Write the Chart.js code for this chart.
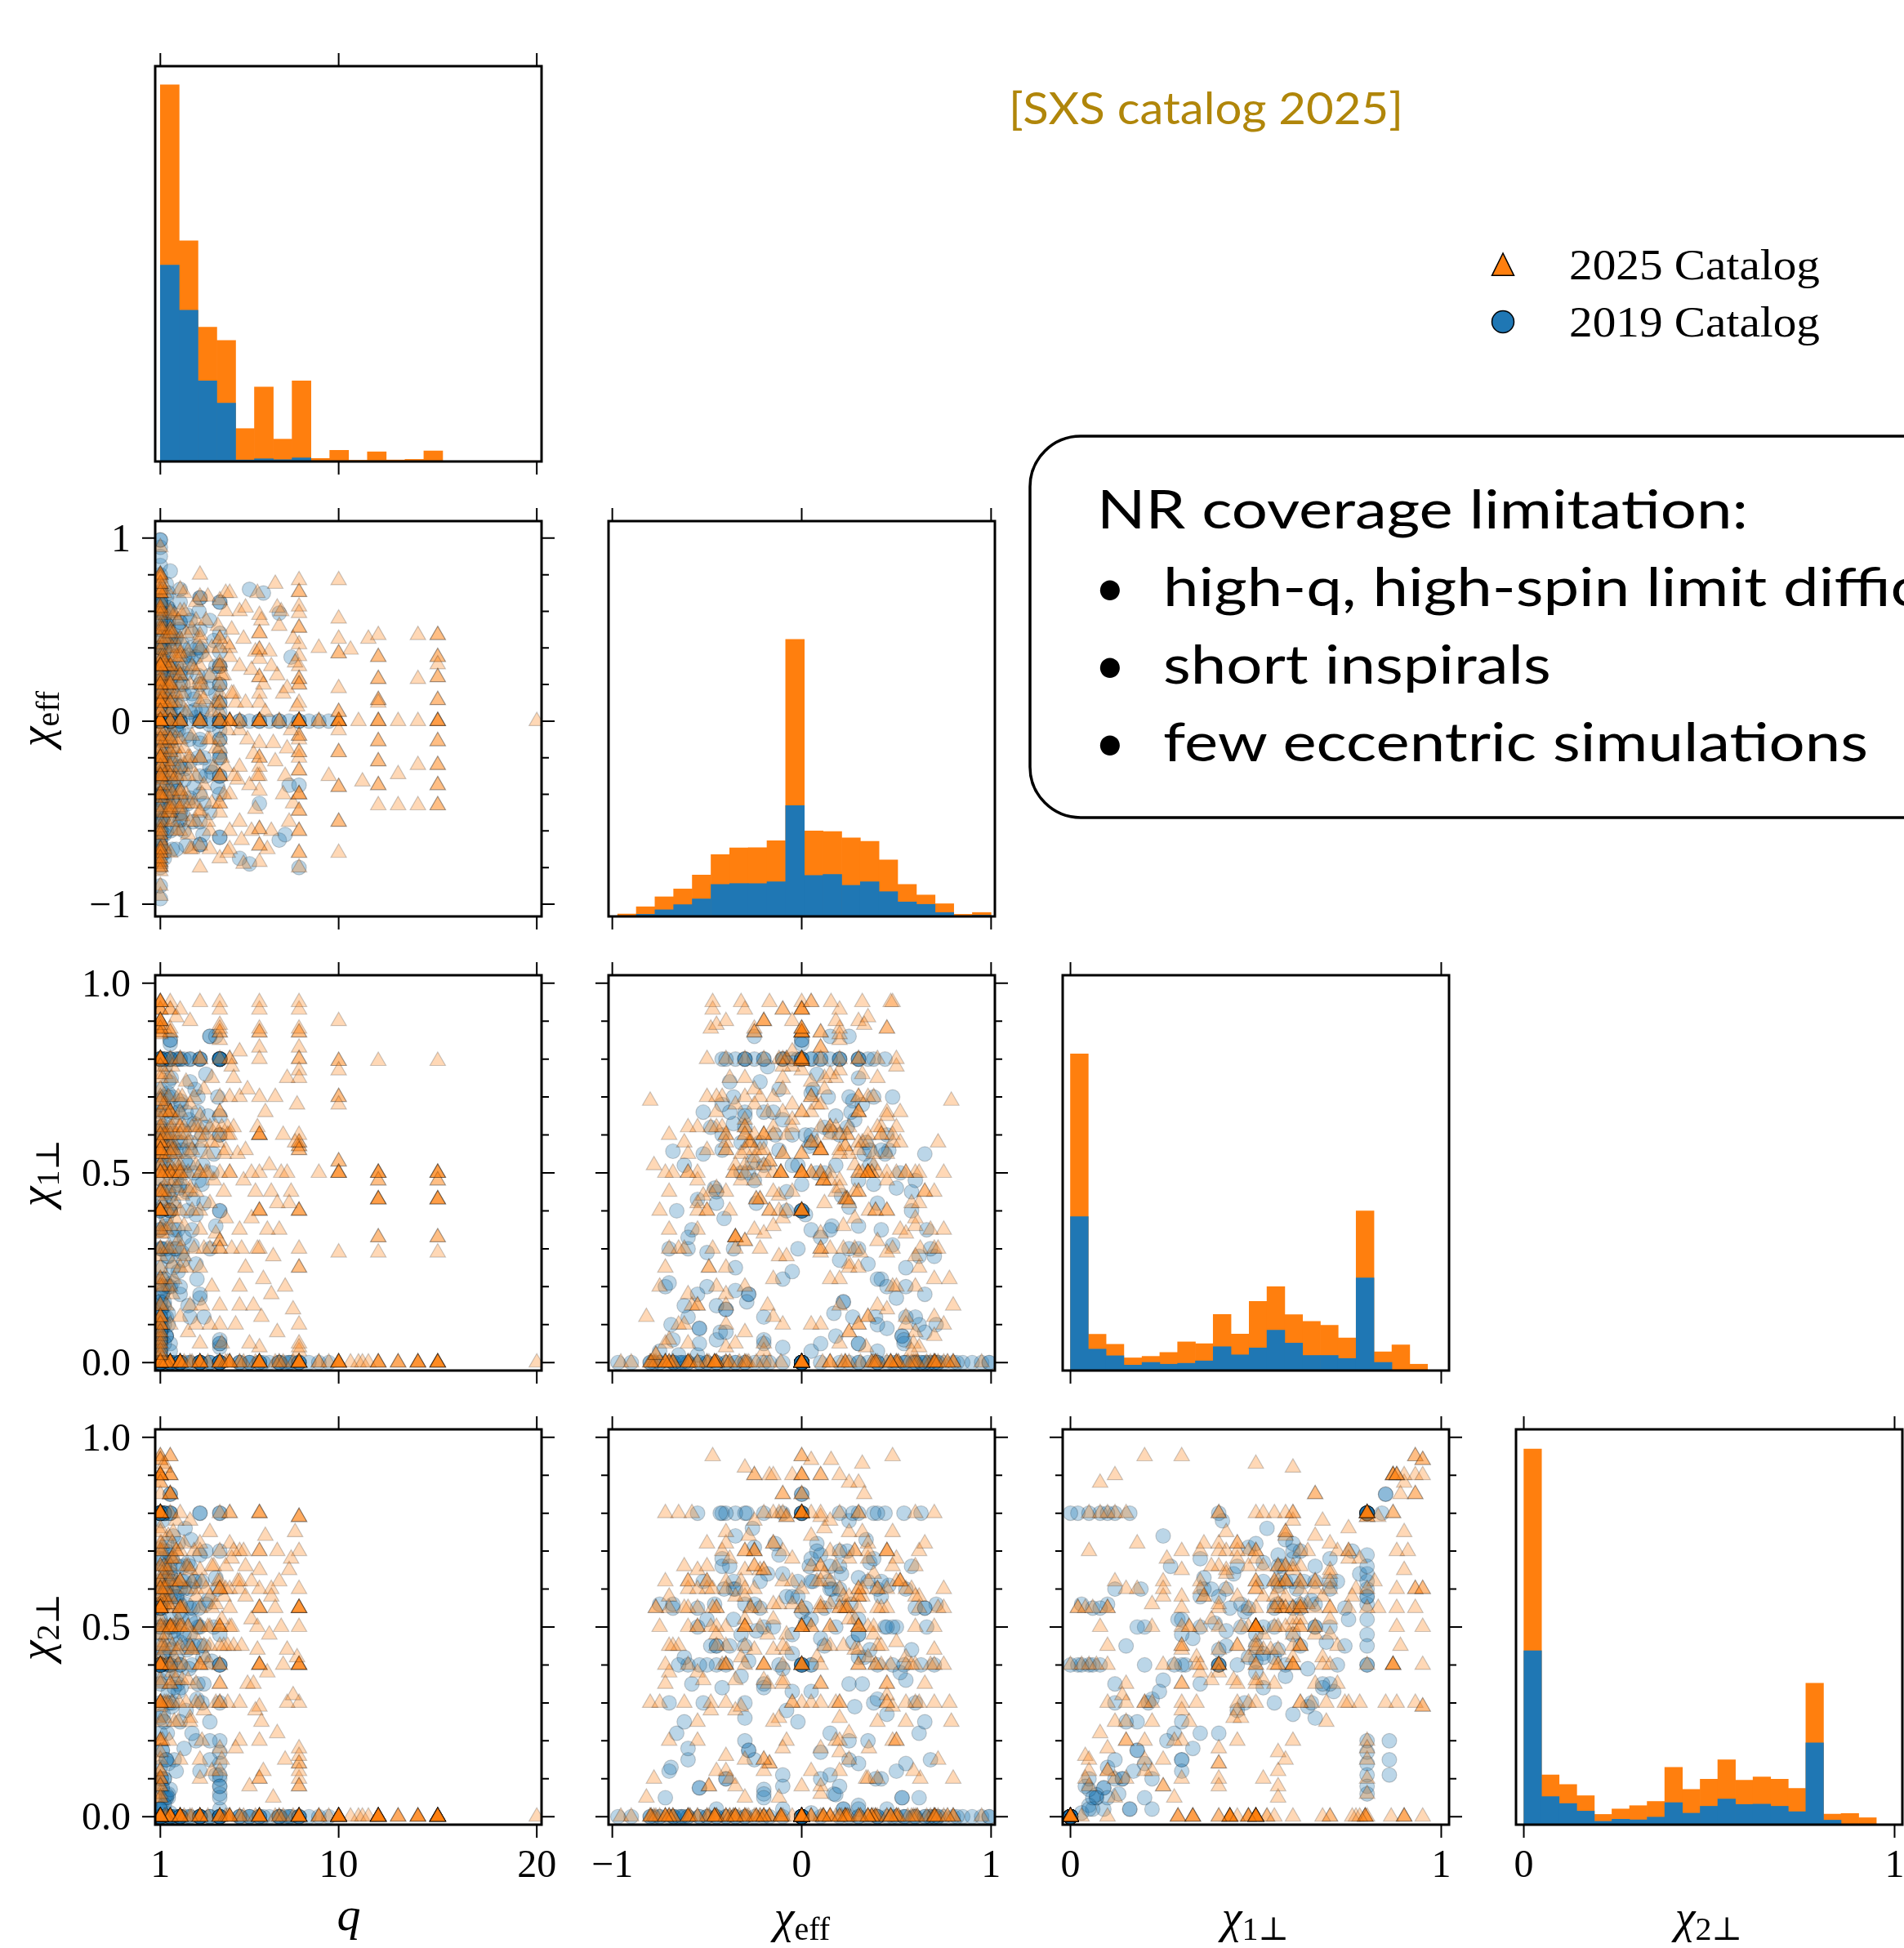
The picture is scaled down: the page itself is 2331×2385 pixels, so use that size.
<!DOCTYPE html>
<html lang="en">
<head>
<meta charset="utf-8">
<title>SXS catalog coverage</title>
<script src="https://cdn.jsdelivr.net/npm/chart.js@4.4.1/dist/chart.umd.min.js"></script>
<style>
  html, body { margin: 0; padding: 0; background: #fff; }
  body { position: relative; width: 2331px; height: 2385px; overflow: hidden; }
  canvas { position: absolute; }
  #overlay { position: absolute; left: 0; top: 0; z-index: 5; }
</style>
</head>
<body>
<svg id="overlay" width="2331" height="2385" xmlns="http://www.w3.org/2000/svg">
  <text x="1235" y="152" font-family="Lato" font-size="54" fill="#b0860a" textLength="483" lengthAdjust="spacingAndGlyphs">[SXS catalog 2025]</text>

  <!-- legend -->
  <path d="M1840 310 L1826.5 337.3 L1853.5 337.3 Z" fill="#ff7f0e" stroke="#000" stroke-width="1.5"/>
  <circle cx="1840" cy="394" r="13.5" fill="#1f77b4" stroke="#000" stroke-width="1.5"/>
  <g font-family="'Liberation Serif', serif" font-size="53">
    <text x="1921" y="342" textLength="307" lengthAdjust="spacingAndGlyphs">2025 Catalog</text>
    <text x="1921" y="412" textLength="307" lengthAdjust="spacingAndGlyphs">2019 Catalog</text>
  </g>

  <!-- note box -->
  <g id="note" font-family="Lato" font-size="65" fill="#000">
    <rect x="1261" y="534" width="1250" height="467" rx="62" ry="62" fill="#fff" stroke="#000" stroke-width="3.5"/>
    <text class="line" x="1343" y="647">NR coverage limitation:</text>
    <text x="1340" y="742">•</text>
    <text class="line" x="1424" y="742">high-q, high-spin limit difficult</text>
    <text x="1340" y="837">•</text>
    <text class="line" x="1424" y="837">short inspirals</text>
    <text x="1340" y="932">•</text>
    <text class="line" id="noteLast" x="1424" y="932">few eccentric simulations</text>
  </g>

  <!-- axis titles -->
  <g font-family="'Liberation Serif', 'DejaVu Serif', serif" fill="#000">
    <text x="427" y="2363" text-anchor="middle" font-style="italic" font-size="58">q</text>
    <text x="982" y="2366" text-anchor="middle"><tspan font-style="italic" font-size="56">χ</tspan><tspan font-size="40" dy="9">eff</tspan></text>
    <text x="1537" y="2366" text-anchor="middle"><tspan font-style="italic" font-size="56">χ</tspan><tspan font-size="40" dy="9">1⊥</tspan></text>
    <text x="2092" y="2366" text-anchor="middle"><tspan font-style="italic" font-size="56">χ</tspan><tspan font-size="40" dy="9">2⊥</tspan></text>
    <text transform="translate(63 880) rotate(-90)" text-anchor="middle"><tspan font-style="italic" font-size="56">χ</tspan><tspan font-size="40" dy="9">eff</tspan></text>
    <text transform="translate(63 1436) rotate(-90)" text-anchor="middle"><tspan font-style="italic" font-size="56">χ</tspan><tspan font-size="40" dy="9">1⊥</tspan></text>
    <text transform="translate(63 1992) rotate(-90)" text-anchor="middle"><tspan font-style="italic" font-size="56">χ</tspan><tspan font-size="40" dy="9">2⊥</tspan></text>
  </g>
</svg>

<script>
"use strict";
//------------------------------ histogram data ------------------------------
const qBinEdges = [1, 1.95, 2.9, 3.85, 4.8, 5.75, 6.7, 7.65, 8.6, 9.55, 10.5, 11.45, 12.4, 13.35, 14.3, 15.25, 16.2, 17.15, 18.1, 19.05, 20];
const qCounts2025 = [1248, 731, 445, 401, 109, 247, 74, 267, 10, 37, 4, 32, 5, 7, 35, 0, 0, 0, 0, 2];
const qCounts2019 = [651, 501, 267, 193, 5, 9, 6, 12, 2, 1, 0, 0, 0, 0, 0, 0, 0, 0, 0, 0];

const chiEffBinEdges = [-0.972, -0.873, -0.775, -0.676, -0.578, -0.479, -0.380, -0.282, -0.183, -0.085, 0.014, 0.113, 0.211, 0.310, 0.408, 0.507, 0.606, 0.704, 0.803, 0.901, 1.0];
const chiEffCounts2025 = [8, 32, 65, 91, 137, 205, 227, 228, 251, 918, 283, 281, 260, 249, 187, 106, 71, 42, 7, 13];
const chiEffCounts2019 = [2, 7, 22, 39, 58, 106, 109, 109, 115, 367, 136, 139, 103, 115, 82, 48, 40, 13, 2, 4];

const chi1pBinEdges = [0, 0.048, 0.096, 0.144, 0.193, 0.241, 0.289, 0.337, 0.385, 0.433, 0.482, 0.530, 0.578, 0.626, 0.674, 0.722, 0.770, 0.819, 0.867, 0.915, 0.963];
const chi1pCounts2025 = [1049, 120, 87, 42, 47, 60, 95, 89, 186, 121, 229, 278, 185, 163, 150, 108, 529, 62, 85, 21];
const chi1pCounts2019 = [510, 71, 49, 18, 27, 21, 24, 32, 79, 52, 75, 134, 91, 50, 50, 40, 307, 27, 0, 0];

const chi2pBinEdges = [0, 0.048, 0.095, 0.143, 0.190, 0.238, 0.285, 0.333, 0.380, 0.428, 0.476, 0.523, 0.571, 0.618, 0.666, 0.713, 0.761, 0.808, 0.856, 0.903, 0.951];
const chi2pCounts2025 = [1245, 165, 133, 96, 34, 52, 63, 77, 190, 117, 151, 215, 147, 158, 151, 120, 469, 35, 37, 23];
const chi2pCounts2019 = [576, 93, 70, 45, 11, 18, 16, 25, 73, 38, 61, 85, 67, 68, 61, 43, 271, 15, 0, 0];

//------------------------------ axis ranges and ticks ------------------------------
const qRange = [0.74, 20.24];
const chiEffRangeX = [-1.02, 1.02];
const chiEffRangeY = [-1.067, 1.093];
const perpRange = [-0.021, 1.021];
const histMax = 1310;

const qTicks = [1, 10, 20];
const qTickLabels = ["1", "10", "20"];
const chiEffTicks = [-1, 0, 1];
const chiEffTickLabels = ["\u22121", "0", "1"];
const chiEffMinorTicks = [-0.8, -0.6, -0.4, -0.2, 0.2, 0.4, 0.6, 0.8];
const perpTicksX = [0, 1];
const perpTickLabelsX = ["0", "1"];
const perpTicksY = [0, 0.5, 1];
const perpTickLabelsY = ["0.0", "0.5", "1.0"];
const perpMinorTicks = [0.1, 0.2, 0.3, 0.4, 0.6, 0.7, 0.8, 0.9];

//------------------------------ simulations: [q, chiEff, chi1perp, chi2perp, count] ------------------------------
const sims2019 = [
  // non-spinning
  [1,0,0,0,5],[1.5,0,0,0,2],[2,0,0,0,3],[2.5,0,0,0,1],[3,0,0,0,3],[3.5,0,0,0,1],[4,0,0,0,3],[5,0,0,0,2],[5.5,0,0,0,1],
  [6,0,0,0,2],[6.5,0,0,0,1],[7,0,0,0,2],[7.5,0,0,0,1],[8,0,0,0,2],[8.5,0,0,0,1],[9,0,0,0,1],[9.5,0,0,0,1],
  // aligned spins
  [1,-0.97,0,0],[1,-0.9,0,0],[1,-0.8,0,0],[1,-0.7,0,0],[1,-0.6,0,0],[1,-0.5,0,0],[1,-0.4,0,0],[1,-0.3,0,0],[1,-0.2,0,0],
  [1,-0.1,0,0],[1,0.1,0,0],[1,0.2,0,0],[1,0.3,0,0],[1,0.4,0,0],[1,0.5,0,0],[1,0.6,0,0],[1,0.7,0,0],[1,0.8,0,0],
  [1,0.85,0,0],[1,0.9,0,0],[1,0.95,0,0],[1,0.99,0,0,2],
  [1.2,-0.75,0,0],[1.3,0.75,0,0],[1.5,-0.6,0,0],[1.5,-0.3,0,0],[1.5,0.3,0,0],[1.5,0.6,0,0],[1.5,0.82,0,0],[1.7,-0.45,0,0],
  [1.8,0.45,0,0],[2,-0.54,0,0,2],[2,-0.25,0,0],[2,0.25,0,0],[2,0.54,0,0,2],[2,0.72,0,0],[2.3,-0.68,0,0],[2.5,0.4,0,0],
  [3,-0.675,0,0,2],[3,-0.4,0,0],[3,0.4,0,0],[3,0.674,0,0,2],[3.5,-0.5,0,0],[3.5,0.55,0,0],[4,-0.635,0,0,2],[4,-0.17,0,0],
  [4,0.48,0,0],[4,0.65,0,0,2],[5.5,0.72,0,0],[6.2,0.7,0,0],[7,0.59,0,0],[7.6,0.35,0,0],[7.5,-0.35,0,0],[7,-0.65,0,0],
  [7.3,-0.62,0,0],[5.5,-0.78,0,0],[5,-0.75,0,0],[8,-0.35,0,0],[8,-0.8,0,0],[6,-0.45,0,0],
  // small in-plane spins
  [1.05,-0.4,0.14,0.1,2],[1.1,-0.54,0.09,0.076,2],[1.2,0.42,0.22,0.1],[1.3,0.53,0.07,0.05,2],[1,0.45,0.09,0.02],
  [1,-0.69,0.1,0.13],[1.2,-0.72,0.2,0.05],[1.4,0.17,0.13,0.06],[1.3,0.18,0.07,0.058],[1.1,-0.28,0.18,0.175,2],
  [1.5,-0.2,0.05,0.072],[1.2,0.39,0.12,0.1],[1.4,0.62,0.1,0.05],[1,0.22,0.16,0.02,2],[1.1,-0.1,0.22,0.02],
  [1.5,0.05,0.03,0.01],[1.2,0.3,0.05,0.03],[1,-0.45,0.06,0.02],[1.3,-0.6,0.12,0.15],[1.4,0.55,0.2,0.14],
  [4,-0.3,0.8,0.2],[4,0.1,0.8,0.17],[4,0.3,0.8,0.14],[4,-0.1,0.8,0.11],[4,0.2,0.8,0.08],[4,-0.2,0.8,0.06],
  [3.5,0.25,0.86,0.2],[3.5,-0.25,0.86,0.15],[3.8,0.15,0.86,0.11],[4,0.1,0.05,0.1],[4,-0.1,0.04,0.08],
  [4,0.3,0.05,0.02],[4,-0.2,0.06,0.05],
  // generic precessing
  [1,0.12,0.62,0.55],[1.1,-0.25,0.48,0.71],[1.2,0.33,0.55,0.42],[1.3,-0.41,0.38,0.6],[1.4,0.05,0.71,0.33],
  [1.5,0.21,0.44,0.64],[1.6,-0.15,0.66,0.5],[1.7,0.42,0.35,0.58],[1.8,-0.32,0.58,0.37],[1.9,0.08,0.5,0.72],
  [2,0.27,0.69,0.46],[2.1,-0.5,0.29,0.52],[2.2,0.15,0.61,0.6],[2.3,-0.08,0.45,0.28],[2.4,0.36,0.52,0.67],
  [2.5,-0.22,0.74,0.55],[2.6,0.48,0.31,0.4],[2.7,-0.36,0.63,0.62],[2.8,0.02,0.39,0.51],[2.9,0.25,0.7,0.35],
  [3,-0.12,0.56,0.69],[3.1,0.38,0.47,0.3],[3.2,-0.45,0.42,0.45],[3.4,0.18,0.65,0.57],[3.6,-0.28,0.5,0.41],
  [3.8,0.3,0.36,0.63],[4,-0.05,0.6,0.48],[1,0.55,0.25,0.36],[1.05,-0.6,0.3,0.4],[1.15,0.45,0.6,0.27],
  [1.25,-0.18,0.78,0.64],[1.35,0.62,0.28,0.22],[1.45,-0.52,0.55,0.3],[1.55,0.3,0.75,0.52],[1.65,-0.35,0.25,0.74],
  [1.75,0.1,0.33,0.47],[1.85,-0.02,0.8,0.58],[1.95,0.5,0.46,0.5],[2.05,-0.42,0.68,0.34],[2.15,0.2,0.27,0.66],
  [2.25,-0.26,0.53,0.76],[2.35,0.58,0.4,0.44],[2.45,-0.1,0.64,0.39],[2.55,0.34,0.58,0.73],[2.65,-0.55,0.43,0.55],
  [2.75,0.06,0.72,0.62],[2.85,0.4,0.22,0.31],[1.02,-0.3,0.66,0.26],[1.08,0.25,0.41,0.78],[1.12,-0.05,0.52,0.43],
  [1.18,0.38,0.7,0.68],[1.22,-0.46,0.46,0.56],[1.28,0.16,0.36,0.6],[1.32,-0.14,0.6,0.72],[1.38,0.52,0.5,0.38],
  [1.42,-0.38,0.74,0.45],[1.48,0.04,0.57,0.66],[1.58,0.28,0.64,0.29],[1.68,-0.24,0.42,0.49],[1.78,0.46,0.56,0.61],
  [1.88,-0.58,0.35,0.35],[1.98,0,0.47,0.54],[3.3,0.08,0.76,0.7],[3.5,-0.02,0.3,0.25],[3.7,0.44,0.55,0.5],
  [3.9,-0.36,0.7,0.6],[2.95,0.6,0.48,0.55],[3.15,-0.62,0.52,0.42],[1,0.66,0.35,0.5],[1,-0.66,0.4,0.22],
  [1.6,-0.7,0.21,0.3],[2,0.65,0.18,0.25],[2.4,-0.45,0.15,0.45],[2.8,0.35,0.26,0.2],[3.2,-0.2,0.12,0.35],
  [1.7,0.25,0.3,0.15],[2.2,-0.6,0.33,0.18],[3,0.5,0.17,0.12],[1.9,-0.05,0.24,0.33],[2.6,0.15,0.35,0.22],
  [1.4,0.7,0.28,0.4],[1.2,-0.35,0.19,0.6],
  [1,0.18,0.52,0.5],[1,-0.22,0.58,0.62],[1,0.32,0.68,0.35],[1,-0.48,0.62,0.45],[1,0.05,0.35,0.68],[1,-0.12,0.72,0.4],
  [1,0.4,0.42,0.6],[1,-0.36,0.3,0.52],[1.1,0.02,0.6,0.55],[1.1,0.3,0.3,0.48],[1.2,-0.52,0.66,0.62],[1.2,0.58,0.45,0.66],
  [1.3,-0.02,0.52,0.62],[1.3,0.24,0.62,0.7],[1.4,-0.45,0.45,0.4],[1.4,0.48,0.7,0.5],[1.5,-0.08,0.4,0.58],
  [1.5,0.36,0.56,0.44],[1.6,0.14,0.7,0.62],[1.6,-0.42,0.6,0.68],[1.7,-0.2,0.52,0.34],[1.8,0.3,0.48,0.42],
  [1.9,-0.38,0.66,0.66],[2,0.05,0.58,0.4],[2.1,0.42,0.56,0.62],[2.2,-0.32,0.5,0.48],[2.3,0.26,0.66,0.56],
  [2.5,-0.42,0.56,0.66],[2.7,0.12,0.5,0.45],[2.9,-0.2,0.66,0.5],[3.1,0.05,0.6,0.62],[3.3,-0.3,0.62,0.56],
  [1,0.6,0.12,0.3],[1.2,-0.62,0.15,0.25],[1.5,0.45,0.2,0.5],[2,-0.5,0.2,0.4],[2.5,0.55,0.12,0.6],[3,-0.55,0.18,0.5],
  [1.3,0.68,0.3,0.15],[1.8,-0.7,0.3,0.12],
  // grid configurations
  [1,-0.42,0.8,0.8],[1,-0.3,0.8,0.8],[1.2,-0.2,0.8,0.8],[1.2,0.3,0.8,0.8],[1.5,0.44,0.8,0.8],[1,0,0.8,0.8,3],
  [1.5,-0.35,0.8,0.8],[3,0.2,0.8,0.8],[3,-0.1,0.8,0.8],[4,0.38,0.8,0.8],[4,-0.4,0.8,0.8],
  [1,-0.55,0.02,0.8],[1,-0.43,0.08,0.8],[1,0.27,0.12,0.8],[1,0.54,0.05,0.8],[1.2,-0.29,0.16,0.8],[1.2,0.4,0.1,0.8],
  [1,0.63,0,0.8],[1.5,0.1,0.8,0.69],[1.5,-0.1,0.8,0.64],[2,0.2,0.8,0.6],[2,-0.25,0.8,0.56],[2.5,0.05,0.8,0.52],
  [2.5,0.3,0.8,0.48],[3,-0.3,0.8,0.45],[1.2,0.15,0.8,0.66],[1.8,-0.05,0.8,0.58],[2.2,0.35,0.8,0.62],
  [1.5,0,0.4,0.4,2],[4,0,0.4,0.4,2],[1,0,0.8,0.4],[4,0.05,0.8,0.4],[1,0,0.4,0.8],
  [1,-0.65,0.02,0.4],[1,-0.54,0.05,0.4],[1,-0.4,0.08,0.4],[1,0.4,0.03,0.4],[1,0.54,0.06,0.4],[1,0.63,0,0.4],
  [1,-0.75,0.03,0.56],[1,0.71,0.1,0.56],[1,-0.68,0.06,0.55],[1,0.65,0.08,0.55],[1,-0.68,0.557,0.56],[1,0.65,0.55,0.55],
  [1.5,0,0.85,0.85,2],[1.5,0,0.84,0.8],[4,0.2,0.6,0.7],[4,-0.3,0.65,0.3]
];

const sims2025 = [
  // non-spinning
  [1,0,0,0,3],[1.5,0,0,0,2],[2,0,0,0,2],[3,0,0,0,2],[4,0,0,0,2],[4.5,0,0,0,3],[5,0,0,0,2],[6,0,0,0,3],[7,0,0,0,2],
  [8,0,0,0,4],[9,0,0,0,1],[10,0,0,0,3],[11,0,0,0,1],[12,0,0,0,2],[13,0,0,0,1],[14,0,0,0,1],[15,0,0,0,3],[20,0,0,0,1],
  // aligned spins
  [1,0.95,0,0],[1,0.8,0,0,2],[1,0.61,0,0,2],[1,0.39,0,0,2],[1,0.31,0,0],[1,0.23,0,0],[1,0.11,0,0],[1,-0.11,0,0],
  [1,-0.2,0,0],[1,-0.3,0,0],[1,-0.4,0,0,2],[1,-0.795,0,0,2],[1,-0.955,0,0],
  [1.5,0.59,0,0],[1.5,0.5,0,0,2],[1.5,0.21,0,0],[1.5,-0.17,0,0],[1.5,-0.28,0,0],[1.5,-0.5,0,0,2],
  [2,0.37,0,0,2],[2,-0.38,0,0,2],[2,0.6,0,0],[2,-0.6,0,0],[2.2,0.7,0,0],[2.6,-0.7,0,0],
  [3,0.23,0,0],[3,0.15,0,0],[3,-0.49,0,0],[3,0.8,0,0],[3,-0.8,0,0],[3,-0.68,0,0],[3.4,0.68,0,0],
  [4,0.66,0,0],[4,0.15,0,0],[4,-0.45,0,0],[4,-0.75,0,0],[4.3,0.7,0,0],[4.4,-0.72,0,0],[4.5,0.7,0,0],[4.5,-0.7,0,0],
  [5.2,-0.78,0,0],[5.8,0.38,0,0],[6,-0.59,0,0,2],[6,-0.68,0,0,2],[6,0.58,0,0],[6,-0.77,0,0],[6.8,0.75,0,0],
  [7.2,0.15,0,0],[7.7,-0.45,0,0],[8,0.705,0,0,2],[8,0.51,0,0,2],[8,-0.6,0,0,2],[8,-0.72,0,0,2],[8,0.77,0,0],
  [8,-0.8,0,0],[8,0.3,0.1,0],[8,-0.2,0.03,0],[9,0.4,0,0],[9.5,-0.3,0,0],[10.6,0.39,0,0],[11.2,-0.33,0,0],[11.5,0.45,0,0],
  [1,-0.9,0,0],[1,-0.6,0,0],[1,0.5,0,0],[1,0.7,0,0],[1.2,-0.7,0,0],[1.3,0.72,0,0],[2,0.25,0,0],[2.5,-0.45,0,0],
  // q = 8
  [8,0,0.87,0.4,2],[8,0.1,0.83,0.79],[8,-0.08,0.8,0.79,2],[8,0.23,0.57,0.55,2],[8,-0.27,0.58,0.55,2],[8,0.42,0.6,0.4],
  [8,-0.4,0.56,0.4,2],[8,0.355,0.4,0.18],[8,-0.17,0.4,0.14,2],[8,0.626,0.3,0.1],[8,-0.49,0.25,0.08,2],[8,0.59,0.05,0.12],
  [8,-0.4,0.04,0.16],[8,0,0.93,0.3],[8,0.2,0.77,0.6],[8,-0.1,0.75,0.7],[8,0,0.95,0.5],[8,0.2,0.88,0.55],
  // q = 6
  [6,0,0.87,0.8,2],[6,0.1,0.83,0.55],[6,-0.12,0.8,0.8],[6,0.24,0.6,0.55,2],[6,-0.2,0.6,0.4,2],[6,0.39,0.4,0.4,2],
  [6,-0.38,0.4,0.1],[6,0.48,0.3,0.2],[6,0.34,0.04,0.1],[6,0,0.93,0.6],[6,-0.3,0.7,0.65],[6,0.15,0.5,0.7],
  [6,0.48,0.95,0.29],[6,-0.25,0.88,0.7],
  // q between 4.5 and 8
  [4.5,0,0.8,0.8,2],[4.5,0.4,0.5,0.6],[4.5,-0.4,0.6,0.5],[5,0.3,0.7,0.6],[5,-0.25,0.35,0.7],[5,0.6,0.2,0.3],
  [5,-0.55,0.15,0.2],[4.7,0.15,0.62,0.45],[4.9,-0.32,0.55,0.62],[5.2,0.45,0.48,0.7],[5.4,-0.1,0.72,0.35],
  [5.6,0.28,0.38,0.52],[5.8,-0.48,0.45,0.28],[6.3,0.05,0.66,0.74],[6.5,0.38,0.52,0.48],[6.8,-0.22,0.7,0.55],
  [7,0.52,0.35,0.62],[7.2,-0.4,0.6,0.4],[7.4,0.18,0.75,0.3],[7.6,-0.05,0.45,0.68],[7.8,0.32,0.58,0.75],
  [5.1,-0.65,0.3,0.45],[5.3,0.62,0.25,0.58],[5.7,-0.18,0.15,0.35],[6.1,0.55,0.12,0.25],[6.6,-0.6,0.18,0.6],
  [6.9,0.25,0.08,0.22],[7.3,-0.3,0.2,0.15],[7.7,0.45,0.14,0.32],[4.8,0.1,0.1,0.18],[5.5,-0.35,0.05,0.08],
  [6.2,0.2,0.22,0.12],[6.7,-0.12,0.28,0.05],[7.1,0.6,0.5,0.5],[7.5,-0.55,0.42,0.65],[5.9,0.7,0.3,0.44],
  [6.4,-0.7,0.35,0.38],[4.6,0.5,0.78,0.68],[5,-0.05,0.82,0.62],[7.9,0.08,0.68,0.42],
  [5.3,0.1,0.56,0.66],[5.9,-0.3,0.62,0.5],[6.6,0.3,0.45,0.58],[7.4,-0.15,0.5,0.44],[5.6,-0.6,0.5,0.62],[6.9,0.62,0.42,0.7],
  // q from 9 to 15, spin on the primary only
  [10,0.45,0.29,0],[10,0.37,0.5,0,2],[10,0.18,0.9,0],[10,-0.17,0.53,0,2],[10,-0.36,0.5,0,2],[10,-0.55,0,0,2],
  [10,-0.72,0,0],[10,0.77,0,0],[10,0.56,0,0],[10,0,0.795,0,2],[10,0,0.77,0],[10,0.05,0.7,0,2],[10,-0.05,0.68,0],
  [9,0,0.5,0],[12,0.47,0,0],[12,0.35,0.5,0,2],[12,0.23,0.43,0,2],[12,0.115,0.48,0,2],[12,-0.11,0.5,0,2],
  [12,-0.22,0.43,0,2],[12,-0.35,0.33,0,2],[12,-0.46,0,0],[12,0,0.795,0],[12,0.1,0.29,0],
  [13,-0.29,0,0],[13,-0.46,0,0],[14,0.47,0,0],[14,0.23,0,0],[14,-0.24,0,0],[14,-0.46,0,0],
  [15,0.47,0,0,2],[15,0.35,0.5,0,2],[15,0.31,0.29,0],[15,0.24,0.43,0,2],[15,0.115,0.48,0,2],[15,-0.11,0.5,0,2],
  [15,-0.24,0.43,0,2],[15,-0.35,0.33,0,2],[15,-0.46,0,0,2],[15,0,0.795,0],
  // q from 1 to 2, precessing
  [1,0.08,0.58,0.62],[1,-0.18,0.66,0.48],[1,0.28,0.45,0.7],[1,-0.35,0.52,0.36],[1,0.42,0.62,0.55],[1,-0.5,0.4,0.66],
  [1,0.55,0.34,0.42],[1,-0.62,0.3,0.3],[1,0.12,0.75,0.76],[1,-0.08,0.28,0.2],[1,0.7,0.22,0.5],[1,-0.72,0.25,0.62],
  [1,0.35,0.12,0.1],[1,-0.4,0.1,0.12],[1,0.62,0.5,0.3],[1,-0.25,0.72,0.7],[1,0,0.55,0.55,2],[1,0,0.4,0.4,2],
  [1,0,0.8,0.8,3],[1,0.5,0.8,0.2],[1,-0.5,0.8,0.6],
  [1.1,0.22,0.36,0.58],[1.1,-0.42,0.62,0.7],[1.2,0.5,0.5,0.46],[1.2,-0.12,0.44,0.26],[1.3,0.1,0.68,0.4],
  [1.3,-0.55,0.35,0.5],[1.4,0.38,0.7,0.64],[1.4,-0.28,0.58,0.74],[1.5,0.05,0.5,0.5,2],[1.5,0.45,0.66,0.35],
  [1.5,-0.45,0.66,0.55],[1.6,0.25,0.26,0.68],[1.6,-0.05,0.78,0.3],[1.7,0.58,0.42,0.6],[1.7,-0.32,0.48,0.42],
  [1.8,0.15,0.6,0.78],[1.8,-0.6,0.55,0.62],[1.9,0.4,0.32,0.25],[1.9,-0.15,0.7,0.52],[1.05,0.65,0.45,0.72],
  [1.15,-0.68,0.5,0.45],[1.25,0.32,0.76,0.58],[1.35,-0.22,0.3,0.65],[1.45,0.18,0.45,0.2],[1.55,-0.38,0.75,0.68],
  [1.65,0.48,0.58,0.75],[1.75,-0.1,0.38,0.36],[1.85,0.28,0.52,0.44],[1.95,-0.48,0.62,0.3],[1.5,0,0.66,0.85,2],
  [1.5,0.3,0.5,0.5,2],
  [1,0.18,0.62,0.66],[1,-0.3,0.6,0.52],[1,0.45,0.55,0.35],[1,-0.55,0.48,0.55],[1,0.22,0.3,0.45],[1,-0.15,0.45,0.72],
  [1,0.52,0.66,0.62],[1,-0.42,0.7,0.4],[1.1,0.35,0.58,0.5],[1.1,-0.2,0.34,0.4],[1.2,0.1,0.56,0.66],[1.2,-0.35,0.68,0.58],
  [1.3,0.45,0.4,0.55],[1.3,-0.08,0.6,0.48],[1.4,0.2,0.48,0.3],[1.4,-0.5,0.56,0.62],[1.5,0.6,0.36,0.58],
  [1.5,-0.25,0.52,0.66],[1.6,0.4,0.62,0.45],[1.6,-0.55,0.4,0.38],[1.7,0.1,0.56,0.56],[1.8,-0.3,0.64,0.7],
  [1.9,0.55,0.5,0.4],[1,0.75,0.35,0.6],[1,-0.75,0.4,0.5],[1.2,0.7,0.45,0.3],[1.5,-0.72,0.5,0.35],
  [1.6,-0.4,0.18,0.72],[1.2,0.15,0.22,0.56],
  [1,0.3,0.58,0.58],[1,-0.05,0.64,0.56],[1.1,0.12,0.42,0.64],[1.2,-0.25,0.54,0.44],[1.3,0.3,0.66,0.6],
  [1.4,-0.12,0.4,0.56],[1.5,0.15,0.62,0.62],[1.6,-0.22,0.56,0.5],[1.7,0.35,0.5,0.68],[1.8,-0.45,0.46,0.5],
  [1.1,0.5,0.2,0.2],[1.3,-0.4,0.15,0.3],[1.5,0.3,0.1,0.4],[1.7,-0.15,0.22,0.25],
  // q from 2 to 3
  [2,0.1,0.5,0.62],[2,-0.3,0.62,0.45],[2,0.45,0.4,0.7],[2,0,0.5,0.5,2],[2.1,-0.52,0.44,0.36],[2.1,0.3,0.7,0.55],
  [2.2,-0.15,0.36,0.72],[2.2,0.6,0.28,0.4],[2.3,0.05,0.74,0.3],[2.3,-0.4,0.25,0.6],[2.4,0.38,0.55,0.5],
  [2.4,-0.62,0.58,0.66],[2.5,0.2,0.46,0.26],[2.5,-0.25,0.68,0.78],[2.6,0.5,0.62,0.62],[2.6,-0.08,0.4,0.44],
  [2.7,0.28,0.3,0.7],[2.7,-0.45,0.7,0.48],[2.8,0.65,0.45,0.35],[2.8,-0.3,0.52,0.58],[2,0.25,0.25,0.15],
  [2.5,-0.55,0.15,0.25],[2,-0.1,0.66,0.62],[2.1,0.15,0.48,0.5],[2.2,-0.45,0.62,0.55],[2.3,0.48,0.6,0.66],
  [2.4,-0.2,0.5,0.36],[2.6,0.3,0.56,0.44],[2.8,-0.55,0.62,0.6],[2,0.72,0.3,0.55],[2.5,-0.7,0.45,0.45],
  [2,0.35,0.12,0.62],[2.4,-0.3,0.08,0.5],[2.8,0.55,0.1,0.3],
  // q from 3 to 4
  [3,0,0.5,0.5,2],[3,0.3,0.25,0.4],[3,-0.2,0.6,0.65],[3,0.45,0.65,0.3],[3,-0.5,0.4,0.72],[3.2,0.12,0.72,0.45],
  [3.2,-0.35,0.3,0.28],[3.3,0.55,0.5,0.6],[3.4,-0.1,0.55,0.4],[3.5,0.25,0.42,0.75],[3.5,-0.6,0.62,0.5],
  [3.6,0.4,0.75,0.55],[3.7,-0.25,0.48,0.66],[3.8,0.1,0.34,0.3],[3.1,0.2,0.15,0.2],[3.6,-0.45,0.2,0.12],
  [3,0.1,0.62,0.55],[3.1,-0.4,0.58,0.62],[3.3,0.35,0.6,0.42],[3.4,-0.55,0.5,0.5],[3.6,0.05,0.58,0.66],
  [3.8,-0.15,0.62,0.56],[3.9,0.52,0.58,0.62],[3,0.68,0.35,0.4],[3.5,-0.7,0.3,0.58],[3,0.2,0.05,0.7],[3.5,-0.1,0.1,0.45],
  // q from 4 to 4.8
  [4,0,0.87,0.4,2],[4,0.3,0.66,0.5,2],[4,-0.3,0.32,0.5,2],[4,0.1,0.3,0.35,2],[4,-0.15,0.6,0.8],[4,0.45,0.5,0.7],
  [4,-0.5,0.7,0.62],[4.2,0.25,0.55,0.58],[4.2,-0.4,0.45,0.45],[4.3,0.6,0.38,0.66],[4.4,-0.05,0.62,0.3],
  [4.5,0.35,0.7,0.72],[4.5,-0.6,0.5,0.55],[4.6,0.15,0.3,0.5],[4.7,-0.3,0.75,0.7],[4,0.05,0.1,0.12],[4.1,-0.2,0.05,0.15],
  [4.1,0.25,0.62,0.52],[4.3,-0.25,0.56,0.6],[4.4,0.42,0.6,0.45],[4,0.4,0.15,0.6],
  // large in-plane spins
  [1,0,0.93,0.95,2],[1,0.2,0.93,0.9],[1,-0.25,0.87,0.9,2],[1.5,0.1,0.87,0.9,2],[1.5,-0.1,0.93,0.85,2],[1,0.3,0.9,0.88],
  [1,-0.4,0.9,0.75],[1.2,0.45,0.88,0.6],[4,0.2,0.85,0.3],[4,-0.3,0.93,0.6],[3,0.47,0.95,0.4],[2,-0.47,0.93,0.55],
  [1.8,0.35,0.91,0.7],[2.5,-0.2,0.9,0.65],[1,0.05,0.95,0.94],[1,-0.05,0.9,0.9],[1,-0.47,0.95,0.6],[1,-0.32,0.95,0.29],
  [1.5,-0.17,0.95,0.9],[1,0.155,0.95,0.94],[4,0.32,0.95,0.6],[1,0,0.88,0.9,3],[1.5,-0.48,0.88,0.5],
  [4,-0.45,0.89,0.45],[1,0.33,0.89,0.85],[4,0.45,0.88,0.3],
  // grid configurations
  [1,-0.72,0.05,0.8],[1,-0.65,0.1,0.8],[1,-0.58,0.15,0.8],[1,0.6,0.08,0.8],[1,0.7,0.12,0.8],[1,-0.77,0.02,0.55,2],
  [1,-0.7,0.06,0.55],[1,-0.62,0.1,0.55],[1,0.62,0.04,0.55],[1,0.75,0.1,0.55],[1,-0.72,0,0.4],[1,-0.6,0.05,0.4],
  [1,0.58,0.03,0.4],[1,0.7,0.07,0.4],[1.5,-0.47,0.3,0.95],[1.5,0.48,0.2,0.95],[1.2,-0.3,0.6,0.92],[1.2,0.32,0.5,0.93],
  [1,-0.15,0.12,0.9],[1,0.25,0.08,0.88],[1,-0.8,0.69,0.3],[1,0.79,0.69,0.25],[1,-0.7,0.6,0.2],[1,0.72,0.58,0.15],
  [1,-0.78,0.52,0.1],[1,0.75,0.5,0.4],[1,-0.82,0.12,0.05],[1,0.8,0.15,0.1],[1,-0.75,0.2,0.3],[1,0.78,0.22,0.3],
  [1,0.3,0.8,0.8,2],[1.5,-0.3,0.8,0.4],[2,0.2,0.8,0.55],[3,-0.2,0.8,0.15],[3,0.4,0.8,0.1],[2,-0.4,0.8,0],
  [1,0.1,0.8,0.06],[4,-0.1,0.8,0.18],[1,0,0.4,0.8,2],[1,0,0.4,0,2],[1,0,0.4,0.08],
  [1,0.1,0.5,0.8],[1,-0.1,0.55,0.8],[1.5,0.2,0.6,0.8],[2,-0.2,0.52,0.8],[1,0.05,0.58,0.8],
  [1,0.2,0.56,0.17],[1,-0.2,0.56,0.12],[1,0.1,0.56,0.08],[1,-0.3,0.56,0.05],
  [1,0.3,0.45,0],[1,-0.3,0.5,0],[1.5,0.2,0.55,0],[2,-0.25,0.6,0],[1,0.15,0.76,0],[1,-0.1,0.78,0],
  [1,0.2,0.865,0],[1,-0.2,0.9,0,2],[1,0.05,0.95,0]
];

//------------------------------ page layout ------------------------------
const PANEL_W = 473, PANEL_H = 484;
const colLeft = [190, 745, 1301, 1856];
const rowTop = [81, 638, 1194, 1750];

const ORANGE = "255,127,14", BLUE = "31,119,180";

const variables = [
  { name: "q", index: 0, xRange: qRange, xTicks: qTicks, xLabels: qTickLabels,
    hist: [qBinEdges, qCounts2025, qCounts2019] },
  { name: "chiEff", index: 1, xRange: chiEffRangeX, yRange: chiEffRangeY,
    xTicks: chiEffTicks, xLabels: chiEffTickLabels, yTicks: chiEffTicks, yLabels: chiEffTickLabels, yMinor: chiEffMinorTicks,
    hist: [chiEffBinEdges, chiEffCounts2025, chiEffCounts2019] },
  { name: "chi1p", index: 2, xRange: perpRange, yRange: perpRange,
    xTicks: perpTicksX, xLabels: perpTickLabelsX, yTicks: perpTicksY, yLabels: perpTickLabelsY, yMinor: perpMinorTicks,
    hist: [chi1pBinEdges, chi1pCounts2025, chi1pCounts2019] },
  { name: "chi2p", index: 3, xRange: perpRange, yRange: perpRange,
    xTicks: perpTicksX, xLabels: perpTickLabelsX, yTicks: perpTicksY, yLabels: perpTickLabelsY, yMinor: perpMinorTicks,
    hist: [chi2pBinEdges, chi2pCounts2025, chi2pCounts2019] }
];

//------------------------------ helpers ------------------------------
function stacked(rgb, base) {
  // n identical simulations drawn on top of each other
  return function (ctx) {
    const n = (ctx.raw && ctx.raw.n) || 1;
    return "rgba(" + rgb + "," + (1 - Math.pow(1 - base, n)).toFixed(3) + ")";
  };
}

function simPoints(list, xi, yi) {
  return list.map(s => ({ x: s[xi], y: s[yi], n: s[4] || 1 }));
}

function histBars(edges, counts) {
  return counts.map((c, i) => ({ x: (edges[i] + edges[i + 1]) / 2, y: c }));
}

// box, outward ticks and tick labels, matplotlib style
const framePlugin = {
  id: "frame",
  afterDatasetsDraw(chart, args, o) {
    const ctx = chart.ctx, a = chart.chartArea;
    const sx = chart.scales.x, sy = chart.scales.y;
    ctx.save();
    ctx.strokeStyle = "#000";
    ctx.lineWidth = 2;
    ctx.beginPath();
    for (const v of o.xTicks) {
      const p = sx.getPixelForValue(v);
      ctx.moveTo(p, a.top); ctx.lineTo(p, a.top - 16);
      ctx.moveTo(p, a.bottom); ctx.lineTo(p, a.bottom + 16);
    }
    if (o.yTicks) {
      for (const v of o.yTicks) {
        const p = sy.getPixelForValue(v);
        ctx.moveTo(a.left, p); ctx.lineTo(a.left - 16, p);
        ctx.moveTo(a.right, p); ctx.lineTo(a.right + 16, p);
      }
      for (const v of o.yMinor) {
        const p = sy.getPixelForValue(v);
        ctx.moveTo(a.left, p); ctx.lineTo(a.left - 9, p);
        ctx.moveTo(a.right, p); ctx.lineTo(a.right + 9, p);
      }
    }
    ctx.stroke();
    ctx.lineWidth = 3;
    ctx.strokeRect(a.left, a.top, a.right - a.left, a.bottom - a.top);

    ctx.fillStyle = "#000";
    ctx.font = '48px "Liberation Serif", serif';
    ctx.textBaseline = "alphabetic";
    if (o.xLabels) {
      ctx.textAlign = "center";
      o.xTicks.forEach((v, i) => ctx.fillText(o.xLabels[i], sx.getPixelForValue(v), a.bottom + 64));
    }
    if (o.yLabels) {
      ctx.textAlign = "right";
      o.yTicks.forEach((v, i) => ctx.fillText(o.yLabels[i], a.left - 30, sy.getPixelForValue(v) + 16));
    }
    ctx.restore();
  }
};

function panelCanvas(row, col) {
  const pad = { left: col === 0 ? colLeft[0] : 60, top: 40, right: 60, bottom: row === 3 ? 110 : 60 };
  const c = document.createElement("canvas");
  c.width = pad.left + PANEL_W + pad.right;
  c.height = pad.top + PANEL_H + pad.bottom;
  c.style.left = (colLeft[col] - pad.left) + "px";
  c.style.top = (rowTop[row] - pad.top) + "px";
  document.body.insertBefore(c, document.getElementById("overlay"));
  return { canvas: c, pad };
}

function baseOptions(pad, xRange, yRange, frame) {
  return {
    responsive: false,
    animation: false,
    events: [],
    layout: { padding: pad },
    scales: {
      x: { type: "linear", display: false, min: xRange[0], max: xRange[1], offset: false },
      y: { type: "linear", display: false, min: yRange[0], max: yRange[1] }
    },
    plugins: { legend: { display: false }, tooltip: { enabled: false }, frame }
  };
}

//------------------------------ build the corner plot ------------------------------
for (let row = 0; row < 4; row++) {
  for (let col = 0; col <= row; col++) {
    const { canvas, pad } = panelCanvas(row, col);
    const xv = variables[col], yv = variables[row];
    const frame = {
      xTicks: xv.xTicks,
      xLabels: row === 3 ? xv.xLabels : null,
      yTicks: row === col ? null : yv.yTicks,
      yMinor: yv.yMinor,
      yLabels: (col === 0 && row !== col) ? yv.yLabels : null
    };

    if (row === col) {
      const [edges, c2025, c2019] = xv.hist;
      const bar = { barPercentage: 1, categoryPercentage: 1, grouped: false, borderWidth: 0 };
      new Chart(canvas, {
        type: "bar",
        data: {
          datasets: [
            Object.assign({ label: "2019 Catalog", data: histBars(edges, c2019), backgroundColor: "#1f77b4", order: 0 }, bar),
            Object.assign({ label: "2025 Catalog", data: histBars(edges, c2025), backgroundColor: "#ff7f0e", order: 1 }, bar)
          ]
        },
        options: baseOptions(pad, xv.xRange, [0, histMax], frame),
        plugins: [framePlugin]
      });
    } else {
      // 2025 triangles are drawn over the 2019 circles
      new Chart(canvas, {
        type: "scatter",
        data: {
          datasets: [
            {
              label: "2025 Catalog",
              data: simPoints(sims2025, xv.index, yv.index),
              pointStyle: "triangle", pointRadius: 11, pointBorderWidth: 1.2,
              pointBackgroundColor: stacked(ORANGE, 0.3),
              pointBorderColor: stacked("0,0,0", 0.2),
              order: 0, clip: 0
            },
            {
              label: "2019 Catalog",
              data: simPoints(sims2019, xv.index, yv.index),
              pointStyle: "circle", pointRadius: 9, pointBorderWidth: 1.2,
              pointBackgroundColor: stacked(BLUE, 0.3),
              pointBorderColor: stacked("0,0,0", 0.18),
              order: 1, clip: 0
            }
          ]
        },
        options: baseOptions(pad, xv.xRange, yv.yRange, frame),
        plugins: [framePlugin]
      });
    }
  }
}

//------------------------------ stretch the note text to its typeset width ------------------------------
const noteLines = Array.from(document.querySelectorAll("#note text.line"));
const stretch = 863 / document.getElementById("noteLast").getComputedTextLength();
const natural = noteLines.map(t => t.getComputedTextLength());
noteLines.forEach((t, i) => {
  t.setAttribute("textLength", (natural[i] * stretch).toFixed(1));
  t.setAttribute("lengthAdjust", "spacingAndGlyphs");
});
</script>
</body>
</html>
